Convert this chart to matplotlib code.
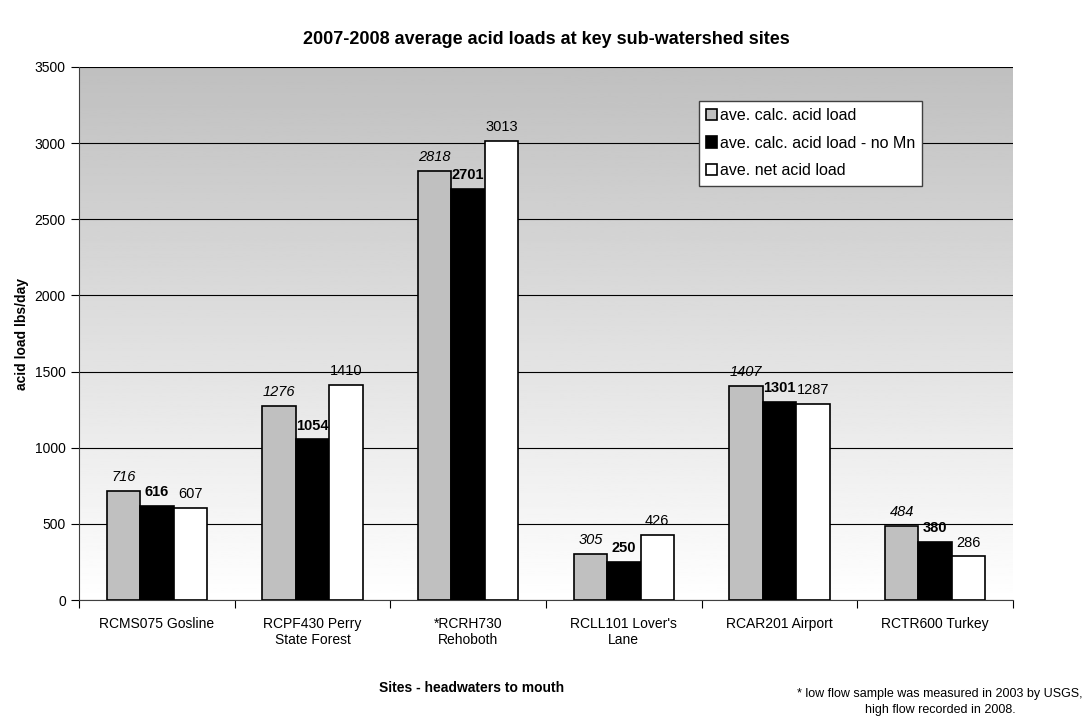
import numpy as np
import matplotlib.pyplot as plt

plt.rcParams['font.family'] = ['Liberation Sans', 'DejaVu Sans']

sites = ["RCMS075 Gosline", "RCPF430 Perry\nState Forest", "*RCRH730\nRehoboth",
         "RCLL101 Lover's\nLane", "RCAR201 Airport", "RCTR600 Turkey"]
calc_load = [716, 1276, 2818, 305, 1407, 484]
calc_no_mn = [616, 1054, 2701, 250, 1301, 380]
net_load = [607, 1410, 3013, 426, 1287, 286]

fig = plt.figure(figsize=(10.89, 7.19), dpi=100)
ax = fig.add_axes([79/1089, 1 - 600/719, 934/1089, 533/719])

# gradient background, grey at top to white at bottom
grad = np.linspace(1.0, 0.75, 256).reshape(-1, 1)
ax.imshow(grad, extent=[-0.5, 5.5, 0, 3500], origin='lower', aspect='auto',
          cmap='gray', vmin=0, vmax=1, zorder=0)

x = np.arange(len(sites))
w = 0.215
series = [(calc_load, '#c0c0c0', dict(style='italic')),
          (calc_no_mn, '#000000', dict(weight='bold')),
          (net_load, '#ffffff', dict())]
labels = ["ave. calc. acid load", "ave. calc. acid load - no Mn", "ave. net acid load"]
for i, (vals, col, fnt) in enumerate(series):
    xs = x + (i - 1) * w
    ax.bar(xs, vals, w, color=col, edgecolor='black', linewidth=1.2, zorder=3, label=labels[i])
    for xi, v in zip(xs, vals):
        ax.text(xi, v + 45, str(v), ha='center', va='bottom', fontsize=10.5, zorder=4, **fnt)

ax.set_xlim(-0.5, 5.5)
ax.set_ylim(0, 3500)
ax.set_yticks(np.arange(0, 3501, 500))
ax.yaxis.grid(True, color='black', linewidth=0.8, zorder=1)
ax.set_axisbelow(True)
ax.set_xticks(np.arange(-0.5, 6, 1))
ax.set_xticklabels([])
ax.set_xticks(x, minor=True)
ax.set_xticklabels(sites, minor=True, fontsize=10)
ax.tick_params(axis='x', which='minor', length=0, pad=12)
ax.tick_params(axis='x', which='major', length=6, direction='out')
ax.tick_params(axis='y', length=6, direction='out', labelsize=10)
for s in ['top', 'right']:
    ax.spines[s].set_visible(False)
ax.spines['left'].set_color('#404040')
ax.spines['bottom'].set_color('#404040')

ax.set_ylabel("acid load lbs/day", fontsize=10, fontweight='bold')
leg = ax.legend(loc='upper left', bbox_to_anchor=(0.655, 0.952), fontsize=11.5,
                frameon=True, fancybox=False, edgecolor='#404040', framealpha=1,
                handlelength=0.7, handleheight=0.7, handletextpad=0.15,
                labelspacing=0.8, borderpad=0.45)
leg.get_frame().set_linewidth(1.0)

fig.text(546/1089, 1 - 40/719, "2007-2008 average acid loads at key sub-watershed sites",
         ha='center', va='center', fontsize=13, fontweight='bold')
fig.text(472/1089, 1 - 688/719, "Sites - headwaters to mouth",
         ha='center', va='center', fontsize=10, fontweight='bold')
fig.text(940/1089, 1 - 702/719,
         "* low flow sample was measured in 2003 by USGS,\nhigh flow recorded in 2008.",
         ha='center', va='center', fontsize=9, linespacing=1.5)

fig.savefig('out.png', dpi=100)
